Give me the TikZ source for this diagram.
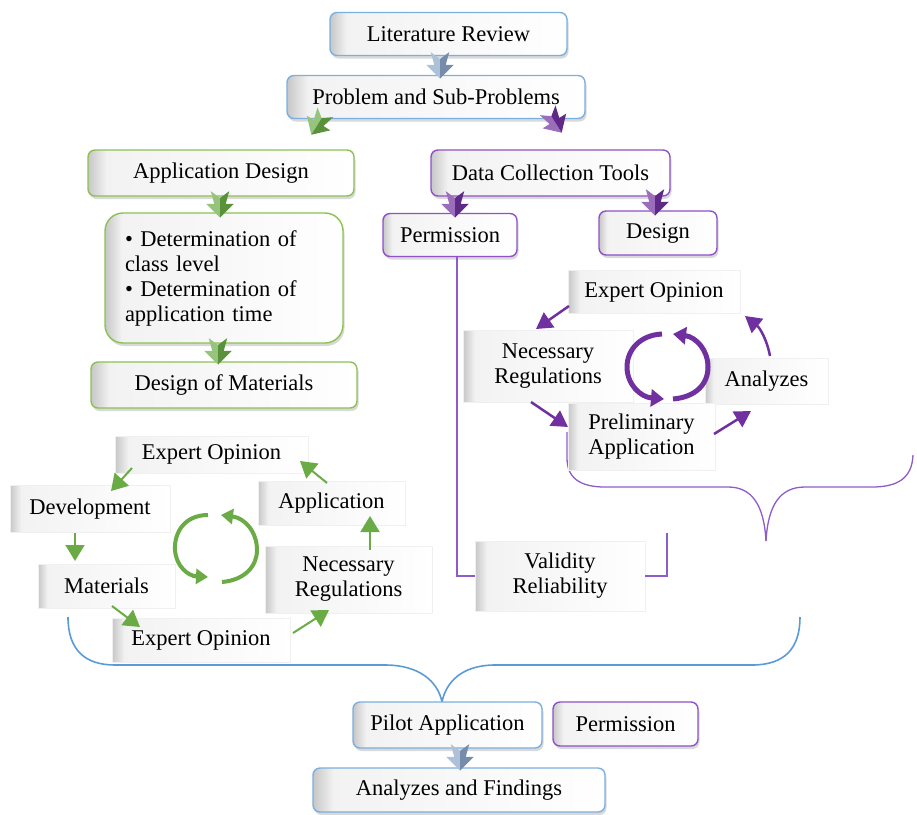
\documentclass[tikz,border=0pt]{standalone}
\usepackage{fontspec}
\setmainfont{Liberation Serif}
\usetikzlibrary{arrows.meta,shadows}
\definecolor{bB}{HTML}{7BAFE0}
\definecolor{gB}{HTML}{8CC152}
\definecolor{pB}{HTML}{9050C8}
\definecolor{gA}{HTML}{6AAB45}
\definecolor{pA}{HTML}{7030A0}
\definecolor{bA}{HTML}{8AA6C8}
\definecolor{pL}{HTML}{8E5CC8}
\definecolor{bL}{HTML}{5B9BD5}
\pgfdeclarehorizontalshading{bevel}{100bp}{color(0bp)=(black!22); color(25bp)=(black!22); color(28.5bp)=(black!5); color(75bp)=(white); color(100bp)=(white)}
\tikzset{
  lbl/.style={font=\fontsize{22.5}{25}\selectfont, text=black, align=center, inner sep=0pt},
  fbox/.style={lbl, draw=#1, line width=1.4pt, rounded corners=7pt, shading=bevel,
    drop shadow={shadow xshift=1.5pt, shadow yshift=-3pt, opacity=0.3}},
  sbox/.style={lbl, shading=bevel, draw=black!6, line width=0.5pt},
  garrow/.style={-{Triangle[length=16pt,width=19pt]}, line width=2pt, draw=gA},
  parrow/.style={-{Triangle[length=16pt,width=18pt]}, line width=2.5pt, draw=pA},
  gcirc/.style={-{Triangle[length=12pt,width=15pt]}, line width=4pt, draw=gA},
  pcirc/.style={-{Triangle[length=13pt,width=17pt]}, line width=5pt, draw=pA},
  pline/.style={draw=pL, line width=1.3pt},
  bline/.style={draw=bL, line width=1.6pt},
  pics/fat/.style={code={
    \fill[#1!70!white] (0,11) -- (-12,-1) -- (-5,-1) -- (-8,-12) -- (0,-6) -- cycle;
    \fill[#1!85!black] (0,11) -- (0,-6) -- (8,-12) -- (5,-1) -- (12,-1) -- cycle;
  }}
}
\begin{document}
\begin{tikzpicture}[x=1pt,y=-1pt]
\useasboundingbox (0,0) rectangle (917,814);
% braces
\coordinate (pbL) at (567,432);
\coordinate (pbR) at (913,455);
\coordinate (pbT) at (766,541);
\draw[pline] (pbL) -- (567,458) .. controls (567,478) and (580,487) .. (605,487) -- (728,487) .. controls (752,487) and (764,505) .. (pbT);
\draw[pline] (pbR) .. controls (912,478) and (898,487) .. (872,487) -- (805,487) .. controls (780,487) and (768,505) .. (pbT);
\coordinate (bbL) at (68,617);
\coordinate (bbR) at (800,617);
\coordinate (bbT) at (442,702);
\draw[bline] (bbL) .. controls (68,650) and (85,665) .. (115,665) -- (385,665) .. controls (420,665) and (438,682) .. (bbT);
\draw[bline] (bbR) .. controls (800,648) and (785,665) .. (752,665) -- (495,665) .. controls (462,665) and (446,682) .. (bbT);

% soft boxes, green cycle
\node[sbox, minimum width=193pt, minimum height=37pt] (geo1) at (211.5,454.5) {Expert Opinion};
\node[sbox, minimum width=160pt, minimum height=47pt] (gdev) at (90,509) {Development};
\node[sbox, minimum width=147pt, minimum height=44pt] (gapp) at (331.5,503) {Application};
\node[sbox, minimum width=137pt, minimum height=44pt] (gmat) at (106.5,586) {Materials};
\node[sbox, minimum width=167pt, minimum height=67pt] (gnr) at (348.5,579.5) {Necessary\\Regulations};
\node[sbox, minimum width=178pt, minimum height=44pt] (geo2) at (201,640) {Expert Opinion};
% soft boxes, purple cycle
\node[sbox, minimum width=172pt, minimum height=43pt] (peo) at (654,292) {Expert Opinion};
\node[sbox, minimum width=170pt, minimum height=72pt] (pnr) at (548,366) {Necessary\\Regulations};
\node[sbox, minimum width=123pt, minimum height=46pt] (pan) at (766.5,381) {Analyzes};
\node[sbox, minimum width=147pt, minimum height=67pt] (ppa) at (641.5,437) {Preliminary\\Application};
\node[sbox, minimum width=170pt, minimum height=70pt] (val) at (560,576) {Validity\\Reliability};

% framed boxes
\node[fbox=bB, minimum width=237pt, minimum height=43pt] (lr) at (448.5,34) {Literature Review};
\node[fbox=bB, minimum width=298pt, minimum height=43pt] (psp) at (436,97) {Problem and Sub-Problems};
\node[fbox=gB, minimum width=266pt, minimum height=46pt] (ad) at (221,173) {Application Design};
\node[fbox=gB, rounded corners=18pt, minimum width=238pt, minimum height=130pt, text width=198pt, align=left] (bul) at (224,278) {• Determination of\\class level\\• Determination of\\application time};
\node[fbox=gB, minimum width=266pt, minimum height=46pt] (dom) at (224,385) {Design of Materials};
\node[fbox=pB, minimum width=239pt, minimum height=46pt] (dct) at (550.5,173) {Data Collection Tools};
\node[fbox=pB, minimum width=134pt, minimum height=43pt] (perm) at (450,235) {Permission};
\node[fbox=pB, minimum width=118pt, minimum height=44pt] (des) at (658,233) {Design};
\node[fbox=bB, minimum width=189pt, minimum height=46pt] (pilot) at (447.5,725) {Pilot Application};
\node[fbox=pB, minimum width=145pt, minimum height=44pt] (perm2) at (625.5,724) {Permission};
\node[fbox=bB, minimum width=292pt, minimum height=44pt] (af) at (459,790) {Analyzes and Findings};

% permission to validity lines
\coordinate (vr) at (667,533);
\draw[pline] ([xshift=7pt]perm.south) |- (val.west);
\draw[pline] (val.east) -| (vr);

% green outer arrows
\draw[garrow] (132,468) -- (111,491);
\draw[garrow] (327,483) -- (300,461);
\draw[garrow] (75,533) -- (75,561);
\draw[garrow] (112,606) -- (140,627);
\draw[garrow] (293,633) -- (329,610);
\draw[garrow] (370,550) -- (370,516);
% green inner circle
\draw[gcirc] (208,515) .. controls (185,515) and (174,532) .. (175,550) .. controls (176,566) and (188,576) .. (208,577);
\draw[gcirc] (222,582) .. controls (245,580) and (257,566) .. (257,550) .. controls (257,532) and (245,518) .. (221,515);

% purple outer arrows
\draw[parrow] (569,306) -- (536,329);
\draw[parrow] (531,402) -- (568,427);
\draw[parrow] (714,434) -- (751,411);
\draw[parrow] (770,356) .. controls (767,340) and (760,328) .. (745,316);
% purple inner circle
\draw[pcirc] (662,334) .. controls (640,335) and (627,350) .. (627,367) .. controls (627,384) and (640,397) .. (664,399);
\draw[pcirc] (673,399) .. controls (696,397) and (708,384) .. (708,367) .. controls (708,350) and (696,337) .. (673,334);

% chunky arrowheads
\pic[scale=1.15] at (440,66) {fat=bA};
\pic[rotate=-32,scale=1.15] at (318,124) {fat=gA};
\pic[rotate=32,scale=1.15] at (555,122) {fat=pA};
\pic[scale=1.15] at (220,205) {fat=gA};
\pic[scale=1.15] at (218,352) {fat=gA};
\pic[scale=1.15] at (455,205) {fat=pA};
\pic[scale=1.15] at (655,203) {fat=pA};
\pic[scale=1.15] at (460,758) {fat=bA};
\end{tikzpicture}
\end{document}
